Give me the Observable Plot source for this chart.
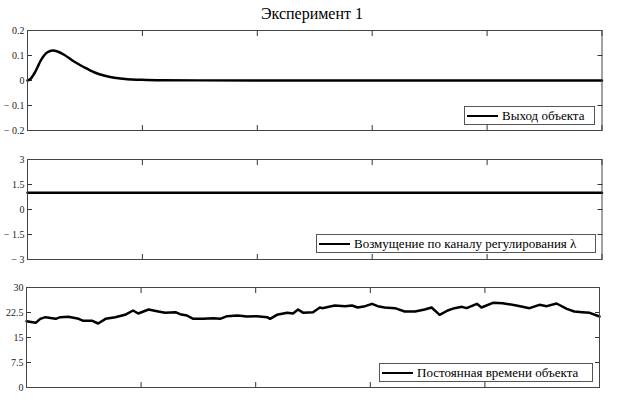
<!DOCTYPE html>
<html><head><meta charset="utf-8">
<script src="https://cdn.jsdelivr.net/npm/d3@7"></script>
<script src="https://cdn.jsdelivr.net/npm/@observablehq/plot@0.6"></script>
<style>
body{margin:0;background:#fff;}
#chart{position:relative;width:624px;height:403px;font-family:"Liberation Serif","DejaVu Serif","Times New Roman",serif;color:#000;}
.panel{position:absolute;left:0;}
.title{position:absolute;left:0;width:624px;text-align:center;top:4px;font-size:16px;line-height:20px;}
.legend{position:absolute;border:1px solid #555;background:#fff;font-size:13px;display:flex;align-items:center;box-sizing:border-box;white-space:nowrap;}
.legend .sw{display:inline-block;width:31px;height:0;border-top:2.5px solid #000;margin:0 4px 0 2px;}
</style></head>
<body>
<div id="chart"></div>
<script>
const titleText = "Эксперимент 1";
const legendLabels = ["Выход объекта", "Возмущение по каналу регулирования λ", "Постоянная времени объекта"];

const xDomain = [0, 100];
const xTicks = [0, 20, 40, 60, 80, 100];

// Panel 1: object output
const outT = [0, 0.57, 1.16, 1.74, 2.31, 2.89, 3.48, 4.35, 5.22, 6.37, 8.1, 9.84, 11.6, 13.3, 15.1, 17.4, 19.7, 23.2, 30, 45, 60, 80, 100];
const outV = [0, 0.007, 0.027, 0.053, 0.08, 0.10, 0.113, 0.12, 0.116, 0.103, 0.076, 0.053, 0.033, 0.02, 0.011, 0.005, 0.003, 0.001, 0.0005, 0, 0, 0, 0];
const y1Domain = [-0.2, 0.2];
const y1Ticks = [-0.2, -0.1, 0, 0.1, 0.2];

// Panel 2: disturbance on control channel
const distT = [0, 100];
const distV = [1, 1];
const y2Domain = [-3, 3];
const y2Ticks = [-3, -1.5, 0, 1.5, 3];

// Panel 3: object time constant
const tauT = [0, 1.6, 2.4, 3.3, 5.1, 5.9, 7.3, 9.1, 9.9, 11.5, 12.5, 13.8, 15.5, 17.2, 18.6, 19.5, 21.3, 23.0, 24.2, 26.0, 26.8, 28.0, 29.1, 30.8, 32.6, 33.8, 35.0, 36.8, 38.5, 40.2, 42.0, 42.5, 43.7, 45.5, 46.5, 47.4, 48.3, 50.0, 51.2, 51.6, 53.8, 55.6, 56.8, 57.8, 59.1, 60.3, 61.3, 62.5, 64.3, 66.0, 67.8, 69.5, 70.7, 72.1, 73.5, 74.7, 76.0, 76.8, 78.6, 79.4, 81.4, 83.1, 85.5, 87.8, 89.5, 90.8, 92.5, 94.3, 95.6, 97.0, 98.3, 100];
const tauV = [19.9, 19.4, 20.6, 21.1, 20.6, 21.1, 21.2, 20.6, 20.0, 20.0, 19.2, 20.6, 21.1, 21.8, 23.1, 22.2, 23.4, 22.8, 22.4, 22.6, 22.0, 21.6, 20.6, 20.6, 20.8, 20.6, 21.4, 21.6, 21.3, 21.4, 21.1, 20.6, 21.8, 22.4, 22.2, 23.4, 22.4, 22.6, 24.0, 23.8, 24.6, 24.4, 24.6, 24.0, 24.4, 25.1, 24.4, 24.0, 23.8, 22.8, 22.8, 23.4, 24.0, 21.8, 23.1, 23.8, 24.2, 23.8, 25.1, 24.0, 25.4, 25.3, 24.6, 23.8, 24.8, 24.4, 25.2, 23.6, 22.8, 22.6, 22.4, 21.3];
const y3Domain = [0, 30];
const y3Ticks = [0, 7.5, 15, 22.5, 30];

const fmt = d => d < 0 ? "\u2212 " + Math.abs(d) : String(d);
const blank = () => "";
const FONT = '"Liberation Serif","DejaVu Serif","Times New Roman",serif';
const TICK = 5;

function panel({t, v, yDomain, yTicks, top, ml, mr, legend, leg, curve}) {
  const data = t.map((d, i) => ({t: d, v: v[i]}));
  const p = Plot.plot({
    width: 624, height: 120,
    marginTop: 10, marginBottom: 10, marginLeft: ml, marginRight: mr,
    x: {domain: xDomain, axis: null},
    y: {domain: yDomain, axis: null},
    style: {fontFamily: FONT, fontSize: "10px", color: "#222", background: "transparent", overflow: "visible"},
    marks: [
      Plot.axisY(yTicks, {anchor: "left", label: null, tickSize: 0, tickPadding: 3, tickFormat: fmt, fill: "#222"}),
      Plot.axisY(yTicks, {anchor: "left", label: null, tickSize: TICK, dx: TICK, tickFormat: blank, stroke: "#333"}),
      Plot.axisY(yTicks, {anchor: "right", label: null, tickSize: TICK, dx: -TICK, tickFormat: blank, stroke: "#333"}),
      Plot.axisX(xTicks, {anchor: "bottom", label: null, tickSize: TICK, dy: -TICK, tickFormat: blank, stroke: "#333"}),
      Plot.axisX(xTicks, {anchor: "top", label: null, tickSize: TICK, dy: TICK, tickFormat: blank, stroke: "#333"}),
      Plot.line(data, {x: "t", y: "v", stroke: "#000", strokeWidth: 2.5, curve}),
      Plot.frame({stroke: "#444"})
    ]
  });
  p.classList.add("panel");
  p.style.top = top + "px";
  chart.appendChild(p);
  const lg = document.createElement("div");
  lg.className = "legend";
  Object.assign(lg.style, {left: leg[0] + "px", top: leg[1] + "px", width: leg[2] + "px", height: leg[3] + "px"});
  lg.innerHTML = '<span class="sw"></span><span></span>';
  lg.lastChild.textContent = legend;
  chart.appendChild(lg);
}

const chart = document.getElementById("chart");
const tt = document.createElement("div");
tt.className = "title";
tt.textContent = titleText;
chart.appendChild(tt);

panel({t: outT, v: outV, yDomain: y1Domain, yTicks: y1Ticks, top: 20, ml: 27, mr: 22.5, legend: legendLabels[0], leg: [464, 106, 131, 19], curve: "catmull-rom"});
panel({t: distT, v: distV, yDomain: y2Domain, yTicks: y2Ticks, top: 149, ml: 27, mr: 22.5, legend: legendLabels[1], leg: [316, 234, 280, 19], curve: "linear"});
panel({t: tauT, v: tauV, yDomain: y3Domain, yTicks: y3Ticks, top: 277, ml: 26, mr: 25, legend: legendLabels[2], leg: [379, 363, 214, 19], curve: "linear"});
</script>
</body></html>
